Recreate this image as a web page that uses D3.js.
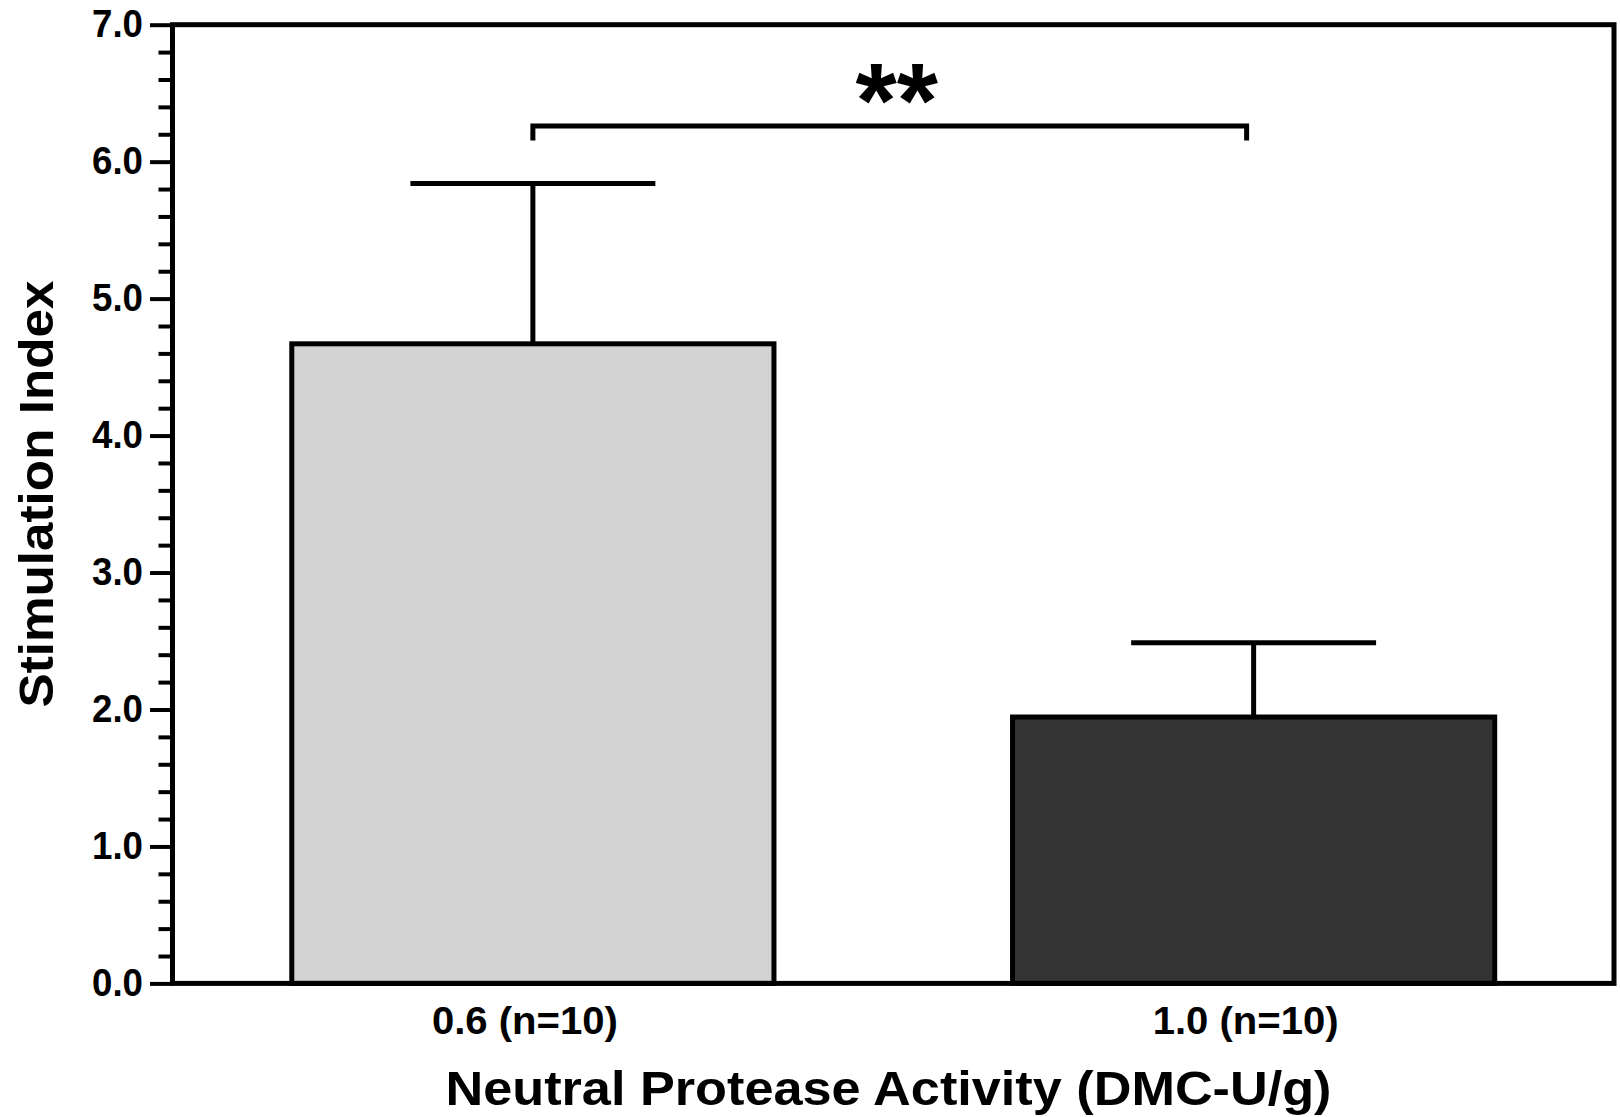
<!DOCTYPE html>
<html><head><meta charset="utf-8">
<script src="https://cdn.jsdelivr.net/npm/d3@7"></script>
<style>
body{margin:0;background:#fff}
svg{display:block}
text{font-family:"Liberation Sans",Arial,Helvetica,sans-serif;font-weight:bold;fill:#000}
</style>
</head><body>
<svg id="chart" width="1620" height="1117"></svg>
<script>
// ---- data ----
const categories = ["0.6 (n=10)", "1.0 (n=10)"];
const means = [4.67, 1.945];
const errors = [1.17, 0.543];
const fills = ["#d3d3d3", "#333333"];
const yMajorTicks = [0, 1, 2, 3, 4, 5, 6, 7];
const yTickLabels = ["0.0", "1.0", "2.0", "3.0", "4.0", "5.0", "6.0", "7.0"];
const yMinorTicks = [0.2,0.4,0.6,0.8,1.2,1.4,1.6,1.8,2.2,2.4,2.6,2.8,3.2,3.4,3.6,3.8,4.2,4.4,4.6,4.8,5.2,5.4,5.6,5.8,6.2,6.4,6.6,6.8];
const sigPair = ["0.6 (n=10)", "1.0 (n=10)"];
const sigLabel = "**";
const sigLevel = 6.26;
const sigLegEnd = 6.155;
const yTitle = "Stimulation Index";
const xTitle = "Neutral Protease Activity (DMC-U/g)";

// ---- layout ----
const svg = d3.select("#chart");
const X0 = 172.5, X1 = 1614, Y0 = 983.4, Y1 = 24.7;
const x = d3.scaleBand().domain(categories).range([X0, X1]).paddingInner(0.331).paddingOuter(0.1655);
const y = d3.scaleLinear().domain([0, 7]).range([Y0, Y1]);
const cx = c => x(c) + x.bandwidth() / 2;

const data = categories.map((c, i) => ({c, m: means[i], e: errors[i], f: fills[i]}));

// bars
svg.append("g").selectAll("rect").data(data).join("rect")
  .attr("x", d => x(d.c)).attr("width", x.bandwidth())
  .attr("y", d => y(d.m)).attr("height", d => y(0) - y(d.m))
  .attr("fill", d => d.f).attr("stroke", "#000").attr("stroke-width", 5);

// error bars
const eb = svg.append("g").attr("stroke", "#000").attr("stroke-width", 5);
eb.selectAll("line.v").data(data).join("line").attr("class", "v")
  .attr("x1", d => cx(d.c)).attr("x2", d => cx(d.c))
  .attr("y1", d => y(d.m)).attr("y2", d => y(d.m + d.e));
eb.selectAll("line.cap").data(data).join("line").attr("class", "cap")
  .attr("x1", d => cx(d.c) - x.bandwidth() * 0.254).attr("x2", d => cx(d.c) + x.bandwidth() * 0.254)
  .attr("y1", d => y(d.m + d.e)).attr("y2", d => y(d.m + d.e));

// frame
svg.append("rect").attr("x", X0).attr("y", Y1).attr("width", X1 - X0).attr("height", Y0 - Y1)
  .attr("fill", "none").attr("stroke", "#000").attr("stroke-width", 5);

// y axis major
const gMaj = svg.append("g").attr("transform", `translate(${X0},0)`)
  .call(d3.axisLeft(y).tickValues(yMajorTicks).tickFormat((d, i) => yTickLabels[i]).tickSize(22.5).tickPadding(7));
gMaj.select(".domain").remove();
gMaj.selectAll("line").attr("stroke", "#000").attr("stroke-width", 4);
gMaj.selectAll("text").attr("font-size", 38).attr("font-family", null).attr("fill", "#000")
  .attr("textLength", 51).attr("lengthAdjust", "spacingAndGlyphs");

// y axis minor
const gMin = svg.append("g").attr("transform", `translate(${X0},0)`)
  .call(d3.axisLeft(y).tickValues(yMinorTicks).tickFormat("").tickSize(14));
gMin.select(".domain").remove();
gMin.selectAll("line").attr("stroke", "#000").attr("stroke-width", 4);

// x axis labels
const gx = svg.append("g").attr("transform", `translate(0,${Y0})`)
  .call(d3.axisBottom(x).tickSize(0).tickPadding(0));
gx.select(".domain").remove();
gx.selectAll("text").attr("font-size", 38.5).attr("font-family", null).attr("fill", "#000")
  .attr("dy", null).attr("y", 50.6).attr("dx", -8)
  .attr("textLength", 186).attr("lengthAdjust", "spacingAndGlyphs");

// significance bracket
const bx1 = cx(sigPair[0]), bx2 = cx(sigPair[1]) - 7;
svg.append("path")
  .attr("d", d3.line()([[bx1, y(sigLegEnd)], [bx1, y(sigLevel)], [bx2, y(sigLevel)], [bx2, y(sigLevel) + (y(sigLegEnd) - y(sigLevel))]]))
  .attr("fill", "none").attr("stroke", "#000").attr("stroke-width", 5).attr("stroke-linejoin", "miter");
svg.append("text").attr("x", (bx1 + bx2) / 2 + 7).attr("y", y(sigLevel) + 11)
  .attr("text-anchor", "middle").attr("font-size", 106).text(sigLabel);

// axis titles
svg.append("text").attr("transform", `translate(52.5,494) rotate(-90)`)
  .attr("text-anchor", "middle").attr("font-size", 49)
  .attr("textLength", 427).attr("lengthAdjust", "spacingAndGlyphs").text(yTitle);
svg.append("text").attr("x", 888.5).attr("y", 1105)
  .attr("text-anchor", "middle").attr("font-size", 48)
  .attr("textLength", 886).attr("lengthAdjust", "spacingAndGlyphs").text(xTitle);
</script>
</body></html>
